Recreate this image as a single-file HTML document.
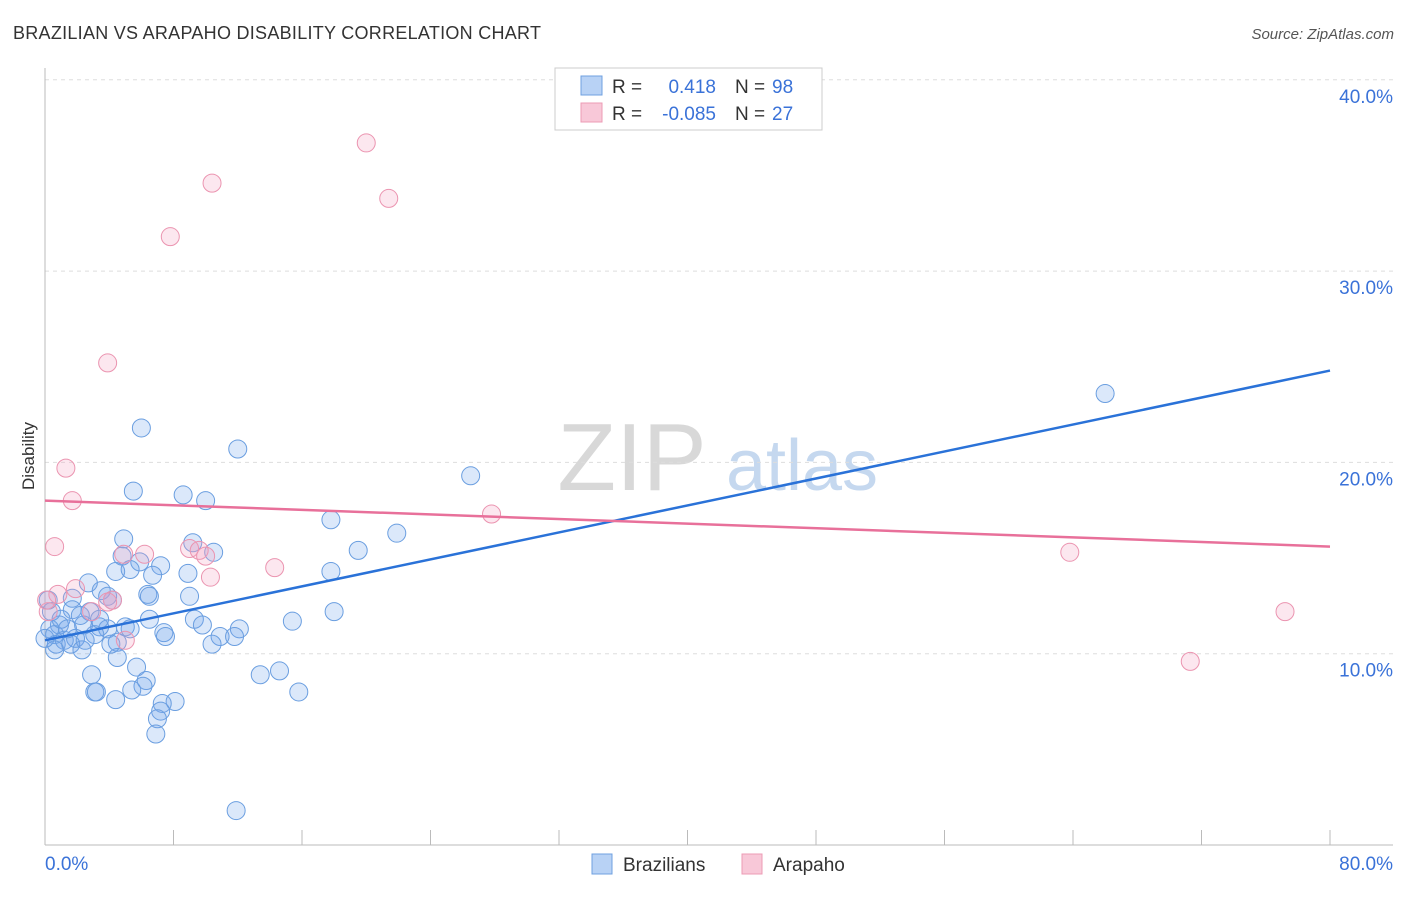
<!DOCTYPE html>
<html><head><meta charset="utf-8"><style>
body{margin:0;background:#fff;font-family:"Liberation Sans",sans-serif}
svg text{font-family:"Liberation Sans",sans-serif}
</style></head><body>
<svg id="chart" width="1406" height="892" xmlns="http://www.w3.org/2000/svg">
<text x="13" y="39" font-size="18" fill="#333" textLength="528">BRAZILIAN VS ARAPAHO DISABILITY CORRELATION CHART</text>
<text x="1394" y="39" font-size="15" fill="#555" text-anchor="end" font-style="italic">Source: ZipAtlas.com</text>
<g>
<text x="632" y="490" font-size="96" fill="#d8d8d8" text-anchor="middle" font-family="Liberation Serif">ZIP</text>
<text x="802" y="490" font-size="72" fill="#c5d8ef" text-anchor="middle">atlas</text>
</g>
<g id="grid"></g>
<g id="axes"></g>
<g id="points"></g>
<g id="lines"></g>
<text transform="translate(34,456) rotate(-90)" font-size="17" fill="#333" text-anchor="middle">Disability</text>
<g>
<rect x="555" y="68" width="267" height="62" fill="#fff" stroke="#ccc"/>
<rect x="581" y="76" width="21" height="19" fill="#b8d2f5" stroke="#6fa0e0"/>
<rect x="581" y="103" width="21" height="19" fill="#f8c8d8" stroke="#ec9bb5"/>
<text x="612" y="93" font-size="19" fill="#333">R =</text>
<text x="716" y="93" font-size="19" fill="#3a72d8" text-anchor="end">0.418</text>
<text x="735" y="93" font-size="19" fill="#333">N =</text>
<text x="772" y="93" font-size="19" fill="#3a72d8">98</text>
<text x="612" y="120" font-size="19" fill="#333">R =</text>
<text x="716" y="120" font-size="19" fill="#3a72d8" text-anchor="end">-0.085</text>
<text x="735" y="120" font-size="19" fill="#333">N =</text>
<text x="772" y="120" font-size="19" fill="#3a72d8">27</text>
</g>
<g>
<rect x="592" y="854" width="20" height="20" fill="#b8d2f5" stroke="#6fa0e0"/>
<text x="623" y="871" font-size="19" fill="#333">Brazilians</text>
<rect x="742" y="854" width="20" height="20" fill="#f8c8d8" stroke="#ec9bb5"/>
<text x="773" y="871" font-size="19" fill="#333">Arapaho</text>
</g>
</svg>
<script>
const yTicks=[10,20,30,40];
const xTickLabels=["0.0%","80.0%"];
const blueX=[66.0,6.0,12.0,5.5,8.6,10.0,26.5,17.8,21.9,19.5,4.9,9.2,10.5,4.8,5.9,7.2,4.4,5.3,6.7,8.9,17.8,2.7,3.5,3.9,6.4,6.5,9.0,1.7,4.2,1.7,2.8,6.5,9.3,18.0,15.4,9.8,12.1,5.0,2.4,3.4,3.9,0.9,0.3,0.6,1.2,1.9,3.1,7.4,7.5,10.9,11.8,4.5,10.4,0.7,1.6,2.3,0.6,4.5,5.7,14.6,13.4,2.9,6.3,6.1,3.1,3.2,5.4,15.8,4.4,8.1,7.3,7.2,7.0,6.9,11.9,0.2,0.4,1.0,2.2,3.4,1.4,2.5,4.1,5.3,0.0];
const blueY=[23.6,21.8,20.7,18.5,18.3,18.0,19.3,17.0,16.3,15.4,16.0,15.8,15.3,15.1,14.8,14.6,14.3,14.4,14.1,14.2,14.3,13.7,13.3,13.0,13.1,13.0,13.0,12.9,12.8,12.3,12.2,11.8,11.8,12.2,11.7,11.5,11.3,11.4,11.5,11.4,11.3,11.5,11.3,11.0,10.7,10.8,11.0,11.1,10.9,10.9,10.9,10.6,10.5,10.5,10.5,10.2,10.2,9.8,9.3,9.1,8.9,8.9,8.6,8.3,8.0,8.0,8.1,8.0,7.6,7.5,7.4,7.0,6.6,5.8,1.8,12.8,12.2,11.8,12.0,11.8,11.3,10.7,10.5,11.3,10.8];
const pinkX=[20.0,10.4,21.4,7.8,3.9,1.3,1.7,27.8,0.6,63.8,9.0,6.2,4.9,9.6,10.0,14.3,10.3,0.8,1.9,4.2,3.9,2.9,0.2,77.2,5.0,71.3,0.1];
const pinkY=[36.7,34.6,33.8,31.8,25.2,19.7,18.0,17.3,15.6,15.3,15.5,15.2,15.2,15.4,15.1,14.5,14.0,13.1,13.4,12.8,12.7,12.2,12.2,12.2,10.7,9.6,12.8];
const blueTrend=[10.7,24.8];
const pinkTrend=[18.0,15.6];
const NS="http://www.w3.org/2000/svg";
const X=v=>45+v/80*1285;
const Y=v=>845-v*19.13;
function mk(tag,attrs,parent){const e=document.createElementNS(NS,tag);for(const k in attrs)e.setAttribute(k,attrs[k]);document.getElementById(parent).appendChild(e);return e;}
yTicks.forEach(t=>{
 const g=mk('line',{x1:45,x2:1393,y1:Y(t),y2:Y(t),stroke:'#ddd','stroke-dasharray':'4,4'},'grid');
 
 
 const l=mk('text',{x:1393,y:Y(t)+23,'font-size':19,fill:'#3a72d8','text-anchor':'end'},'grid');
 l.textContent=t.toFixed(1)+'%';
 
 
});
const ax=mk('line',{x1:45,x2:45,y1:68,y2:845,stroke:'#bbb'},'axes');


const bx=mk('line',{x1:45,x2:1393,y1:845,y2:845,stroke:'#bbb'},'axes');


for(let i=0;i<=10;i++){
 const t=mk('line',{x1:X(i*8),x2:X(i*8),y1:830,y2:845,stroke:'#bbb'},'axes');
 
 
}
[[0,'start',45],[80,'end',1393]].forEach((d,i)=>{
 const t=mk('text',{x:d[2],y:870,'font-size':19,fill:'#3a72d8','text-anchor':d[1]},'axes');
 t.textContent=xTickLabels[i];
 
 
});
blueX.forEach((x,i)=>{
 const c=mk('circle',{cx:X(x),cy:Y(blueY[i]),r:9,fill:'rgba(110,165,235,0.25)',stroke:'#6a9ee0','stroke-width':1},'points');
 
 
});
pinkX.forEach((x,i)=>{
 const c=mk('circle',{cx:X(x),cy:Y(pinkY[i]),r:9,fill:'rgba(245,160,190,0.25)',stroke:'#eb94b0','stroke-width':1},'points');
 
 
});
const bl=mk('line',{x1:X(0),x2:X(80),y1:Y(blueTrend[0]),y2:Y(blueTrend[1]),stroke:'#2a72d8','stroke-width':2.5},'lines');


const pl=mk('line',{x1:X(0),x2:X(80),y1:Y(pinkTrend[0]),y2:Y(pinkTrend[1]),stroke:'#e8709a','stroke-width':2.5},'lines');


</script>
</body></html>
